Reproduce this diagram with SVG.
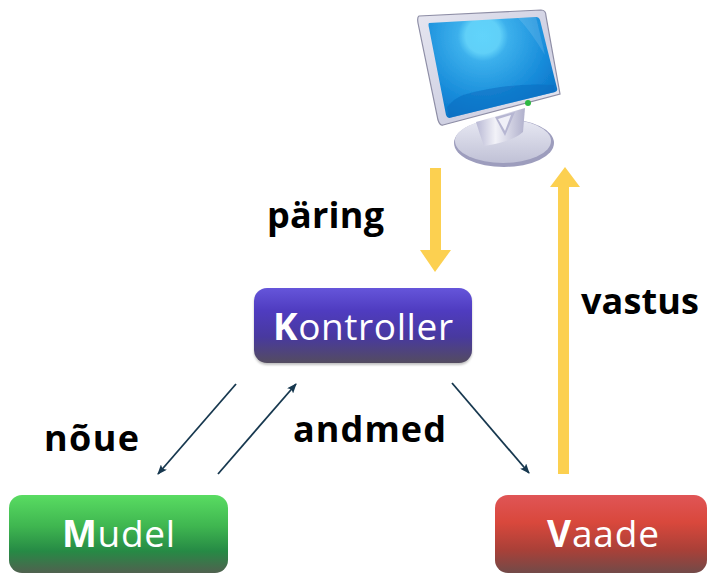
<svg xmlns="http://www.w3.org/2000/svg" width="707" height="573" viewBox="0 0 707 573">
<defs>
<linearGradient id="gk" x1="0" y1="0" x2="0" y2="1"><stop offset="0" stop-color="#6555da"/><stop offset="0.3" stop-color="#4f3cc0"/><stop offset="0.65" stop-color="#48399f"/><stop offset="1" stop-color="#544c60"/></linearGradient>
<linearGradient id="gm" x1="0" y1="0" x2="0" y2="1"><stop offset="0" stop-color="#59dc62"/><stop offset="0.4" stop-color="#3fb650"/><stop offset="0.72" stop-color="#268a45"/><stop offset="1" stop-color="#50614f"/></linearGradient>
<linearGradient id="gv" x1="0" y1="0" x2="0" y2="1"><stop offset="0" stop-color="#e05556"/><stop offset="0.35" stop-color="#d9483c"/><stop offset="0.7" stop-color="#aa4038"/><stop offset="1" stop-color="#724a48"/></linearGradient>
<radialGradient id="scr" gradientUnits="userSpaceOnUse" cx="483" cy="36" r="115"><stop offset="0" stop-color="#62d4fb"/><stop offset="0.15" stop-color="#60d0f8"/><stop offset="0.22" stop-color="#3cb0ec"/><stop offset="0.6" stop-color="#1488d8"/><stop offset="1" stop-color="#0560b4"/></radialGradient>
<linearGradient id="bez" x1="0" y1="0" x2="1" y2="1"><stop offset="0" stop-color="#e6e6f0"/><stop offset="0.6" stop-color="#cfd0e2"/><stop offset="1" stop-color="#eeeef5"/></linearGradient>
<linearGradient id="base" x1="0" y1="0" x2="0" y2="1"><stop offset="0" stop-color="#e8e9f3"/><stop offset="1" stop-color="#c0c1d6"/></linearGradient>
<linearGradient id="neck" x1="0" y1="0" x2="1" y2="0"><stop offset="0" stop-color="#b8b8d4"/><stop offset="0.4" stop-color="#f2f2f8"/><stop offset="1" stop-color="#b0b0cc"/></linearGradient>
<marker id="ah" markerWidth="10" markerHeight="8" refX="9" refY="4" orient="auto" markerUnits="userSpaceOnUse"><path d="M0 0L10 4L0 8L2 4Z" fill="#17384f"/></marker>
<filter id="soft" x="-5%" y="-5%" width="110%" height="110%"><feGaussianBlur stdDeviation="0.7"/></filter>
<filter id="sh" x="-5%" y="-10%" width="110%" height="120%"><feGaussianBlur stdDeviation="1.2"/></filter>
</defs>
<style>
.lab{font-family:"Open Sans","Noto Sans","DejaVu Sans",sans-serif;font-weight:700;font-size:36px;fill:#000}
.nt{font-family:"Open Sans","Noto Sans","DejaVu Sans",sans-serif;font-size:37px;fill:#fff}
.nt tspan{font-weight:700}
.thin{stroke:#17384f;stroke-width:1.8;fill:none;marker-end:url(#ah)}
.big{fill:#fcd050}
</style>
<rect width="707" height="573" fill="#fff"/>
<g id="monitor" filter="url(#soft)">
<ellipse cx="504" cy="143" rx="50" ry="24" fill="#9d9dbd"/>
<ellipse cx="503" cy="141" rx="48" ry="22" fill="url(#base)"/>
<path d="M476 122L525 108L523 132Q512 142 484 146Q480 135 476 122Z" fill="url(#neck)"/>
<path d="M495 117L515 112L505 136Z" fill="#b6b6d2"/>
<path d="M498 119L511 115L505 131Z" fill="#f0f0f8"/>
<path d="M419 16L541 10Q546 10 546 16L560 94L443 125Q440 126 438 120L418 23Q417 17 419 16Z" fill="url(#bez)" stroke="#8e8ea6" stroke-width="1.2"/>
<path d="M429 23L536 17Q539 17 540 20L557 88Q558 91 555 92L449 118Q447 118 446 115L429 28Q428 24 429 23Z" fill="url(#scr)"/>
<path d="M463 95Q510 82 554 85L555 92L449 118L447 107Q455 98 463 95Z" fill="#0a6cc0" opacity="0.55"/>
<path d="M518 18L536 17L545 55Q530 30 518 18Z" fill="#fff" opacity="0.12"/>
<circle cx="528" cy="103" r="3" fill="#2fb843"/>
</g>
<g id="connectors">
<rect class="big" x="430" y="168" width="11" height="82"/><path class="big" d="M420 250H451L435 272Z"/>
<rect class="big" x="558" y="186" width="11" height="288"/><path class="big" d="M550 187H580L565 167Z"/>
<path class="thin" d="M236 384L158 474"/>
<path class="thin" d="M218 474L296 384"/>
<path class="thin" d="M452 383L529 473"/>
</g>
<g id="kontroller"><rect x="254" y="290" width="218" height="75" rx="13" fill="#999" opacity="0.6" filter="url(#sh)"/><rect x="254" y="288" width="218" height="75" rx="13" fill="url(#gk)"/><text class="nt" x="273" y="340" textLength="180"><tspan>K</tspan>ontroller</text></g>
<g id="mudel"><rect x="9" y="495" width="219" height="78" rx="13" fill="url(#gm)"/><text class="nt" x="62" y="547" textLength="113"><tspan>M</tspan>udel</text></g>
<g id="vaade"><rect x="495" y="495" width="212" height="78" rx="13" fill="url(#gv)"/><text class="nt" x="547" y="547" textLength="112"><tspan>V</tspan>aade</text></g>
<text class="lab" x="267" y="228" textLength="117">päring</text>
<text class="lab" x="581" y="314" textLength="118">vastus</text>
<text class="lab" x="44" y="451" textLength="95">nõue</text>
<text class="lab" x="293" y="442" textLength="153">andmed</text>
</svg>
